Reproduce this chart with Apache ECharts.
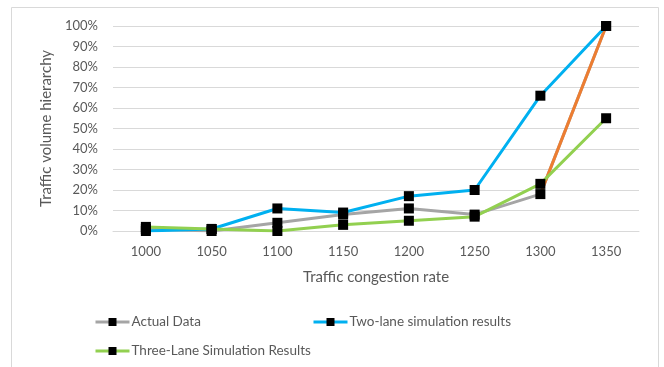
<!DOCTYPE html>
<html>
<head>
<meta charset="utf-8">
<script src="https://cdn.jsdelivr.net/npm/echarts@6/dist/echarts.min.js"></script>
<style>
  html, body { margin: 0; padding: 0; background: #fff; }
  #chart { width: 664px; height: 367px; }
</style>
</head>
<body>
<div id="chart"></div>
<script>
// Traffic congestion rate categories (x axis)
const categories = ['1000', '1050', '1100', '1150', '1200', '1250', '1300', '1350'];

// Traffic volume hierarchy, percent
const actualData = [1, 0, 4, 8, 11, 8, 18, 100];
const twoLane    = [0, 1, 11, 9, 17, 20, 66, 100];
const threeLane  = [2, 1, 0, 3, 5, 7, 23, 55];

// Index where the actual-data line switches to its highlight colour
const highlightFrom = 6;

const FONT = 'Lato';
const TEXT = '#595959';

const lineSeries = (name, data, color) => ({
  name: name,
  type: 'line',
  data: data,
  symbol: 'rect',
  symbolSize: 10,
  showSymbol: true,
  lineStyle: { color: color, width: 3 },
  itemStyle: { color: '#000', borderWidth: 0 },
  emphasis: { disabled: true },
  animation: false
});

const highlightSeg = actualData.map((v, i) => (i >= highlightFrom ? v : null));

const legendBase = {
  itemWidth: 34,
  itemHeight: 10,
  itemGap: 4,
  lineStyle: { width: 3 },
  textStyle: { fontFamily: FONT, fontSize: 13.5, color: TEXT, padding: [0, 0, 0, -3] },
  selectedMode: false
};

const chart = echarts.init(document.getElementById('chart'), null, { renderer: 'canvas' });
chart.setOption({
  backgroundColor: '#fff',
  animation: false,
  graphic: [{
    type: 'rect',
    shape: { x: 11.5, y: 7.5, width: 647, height: 380 },
    style: { fill: 'none', stroke: '#d9d9d9', lineWidth: 1 },
    silent: true,
    z: -1
  }],
  grid: { left: 113, right: 25, top: 26, bottom: 136, containLabel: false },
  legend: [
    Object.assign({}, legendBase, { left: 89, top: 310, data: ['Actual Data'] }),
    Object.assign({}, legendBase, { left: 307, top: 310, data: ['Two-lane simulation results'] }),
    Object.assign({}, legendBase, { left: 89, top: 339, data: ['Three-Lane Simulation Results'] })
  ],
  xAxis: {
    type: 'category',
    data: categories,
    boundaryGap: true,
    name: 'Traffic congestion rate',
    nameLocation: 'middle',
    nameGap: 39,
    nameTextStyle: { fontFamily: FONT, fontSize: 15, color: TEXT },
    axisLine: { lineStyle: { color: '#d9d9d9', width: 1 } },
    axisTick: { show: false },
    axisLabel: { fontFamily: FONT, fontSize: 13, color: TEXT, margin: 14 }
  },
  yAxis: {
    type: 'value',
    min: 0,
    max: 100,
    interval: 10,
    name: 'Traffic volume hierarchy',
    nameLocation: 'middle',
    nameGap: 57,
    nameTextStyle: { fontFamily: FONT, fontSize: 15, color: TEXT },
    axisLine: { show: false },
    axisTick: { show: false },
    splitLine: { lineStyle: { color: '#d9d9d9', width: 1 } },
    axisLabel: { fontFamily: FONT, fontSize: 13, color: TEXT, margin: 15, formatter: '{value}%' }
  },
  series: [
    lineSeries('Actual Data', actualData, '#a5a5a5'),
    Object.assign(lineSeries('Actual Data (highlight)', highlightSeg, '#ed7d31'), { symbol: 'none' }),
    lineSeries('Two-lane simulation results', twoLane, '#00b0f0'),
    lineSeries('Three-Lane Simulation Results', threeLane, '#92d050')
  ]
});
</script>
</body>
</html>
